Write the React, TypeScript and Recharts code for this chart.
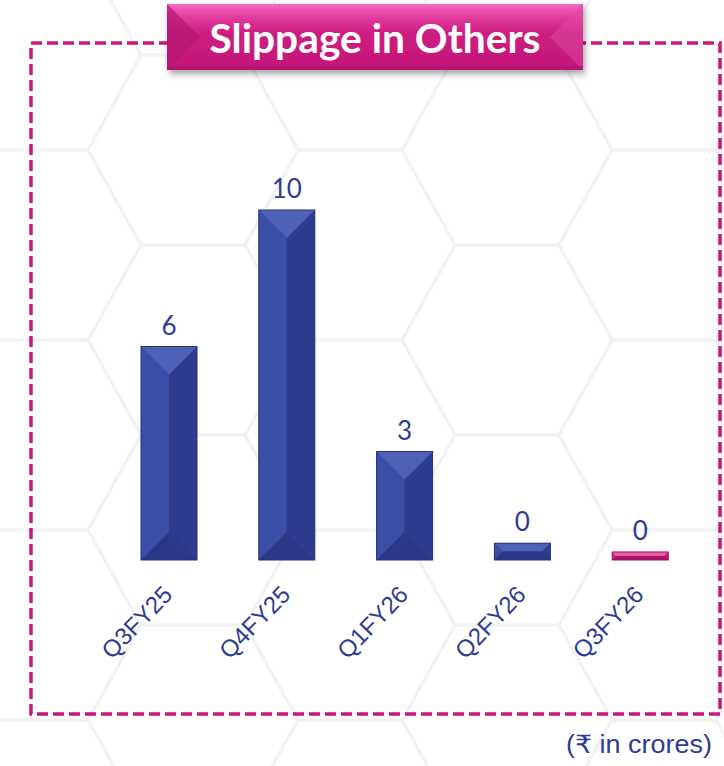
import React from 'react';
import {BarChart, Bar, XAxis, YAxis, LabelList} from 'recharts';

// slippage in others, ₹ crores (bar heights; labels show rounded values)
const quarters = ['Q3FY25', 'Q4FY25', 'Q1FY26', 'Q2FY26', 'Q3FY26'];
const slippage = [6.1, 10, 3.1, 0.48, 0.23];
const yDomain = [0, 10];

const data = quarters.map((q, i) => ({quarter: q, value: slippage[i]}));

const navy = {base: '#33449c', left: '#3a4ea6', right: '#2d3c8f', top: '#4f61b7', bottom: '#2b3887', edge: '#27337d'};
const pink = {base: '#cc1d80', left: '#d42a8a', right: '#bf1775', top: '#ea5cae', bottom: '#a8125f', edge: '#9e1159'};
const textBlue = '#2e3c94';

function BevelBar(props: any) {
	const {x, y, width: w, height: h, index} = props;
	if (!w || h == null) return null;
	const c = index === quarters.length - 1 ? pink : navy;
	const d = Math.min(w / 2, h / 2);
	const p = (pts: number[][]) => pts.map((q) => q.join(',')).join(' ');
	return (
		<g>
			<rect x={x} y={y} width={w} height={h} fill={c.base} />
			<polygon points={p([[x, y], [x + d, y + d], [x + d, y + h - d], [x, y + h]])} fill={c.left} />
			<polygon points={p([[x + w, y], [x + w - d, y + d], [x + w - d, y + h - d], [x + w, y + h]])} fill={c.right} />
			<polygon points={p([[x, y], [x + w, y], [x + w - d, y + d], [x + d, y + d]])} fill={c.top} />
			<polygon points={p([[x, y + h], [x + w, y + h], [x + w - d, y + h - d], [x + d, y + h - d]])} fill={c.bottom} />
			<rect x={x} y={y} width={w} height={h} fill="none" stroke={c.edge} strokeWidth={1} />
		</g>
	);
}

function AngledTick(props: any) {
	const {x, y, payload} = props;
	return (
		<g transform={`translate(${x + 5},${y + 36})`}>
			<text
				textAnchor="end"
				transform="rotate(-46)"
				fill={textBlue}
				fontSize={24}
				fontFamily="'Liberation Sans', Arial, sans-serif"
			>
				{payload.value}
			</text>
		</g>
	);
}

function HexBackground() {
	const cells = [];
	for (let c = -1; c < 5; c++) {
		for (let r = -1; r < 5; r++) {
			const cx = 193 + c * 157;
			const cy = 150 + r * 190 + (Math.abs(c) % 2 === 1 ? 95 : 0);
			const pts = [
				[cx - 105, cy],
				[cx - 52, cy - 95],
				[cx + 52, cy - 95],
				[cx + 105, cy],
				[cx + 52, cy + 95],
				[cx - 52, cy + 95],
			];
			cells.push(<polygon key={`${c}-${r}`} points={pts.map((q) => q.join(',')).join(' ')} />);
		}
	}
	return (
		<g fill="none" stroke="#f2f2f4" strokeWidth={3}>
			{cells}
		</g>
	);
}

function Frame() {
	return (
		<svg width={724} height={766} style={{position: 'absolute', left: 0, top: 0}}>
			<defs>
				<linearGradient id="titleGrad" x1="0" y1="0" x2="0" y2="1">
					<stop offset="0" stopColor="#f46cc2" />
					<stop offset="0.2" stopColor="#e23a9f" />
					<stop offset="0.45" stopColor="#cc1c80" />
					<stop offset="1" stopColor="#c4177a" />
				</linearGradient>
				<filter id="shadow" x="-10%" y="-20%" width="120%" height="160%">
					<feDropShadow dx="2" dy="4" stdDeviation="3" floodColor="#000" floodOpacity="0.35" />
				</filter>
			</defs>
			<rect width={724} height={766} fill="#ffffff" />
			<HexBackground />
			<rect x={31} y={43} width={689} height={671} fill="none" stroke="#c8177a" strokeWidth={3.5} strokeDasharray="11 5" />
			<g filter="url(#shadow)">
				<rect x={167} y={4} width={416} height={66} fill="url(#titleGrad)" />
			</g>
			<polygon points="167,4 200,37 167,70" fill="#b5156f" opacity={0.7} />
			<polygon points="583,4 550,37 583,70" fill="#e04aa6" opacity={0.5} />
			<rect x={167} y={66} width={416} height={4} fill="#b0126a" opacity={0.6} />
			<text
				x={375}
				y={53}
				textAnchor="middle"
				fill="#ffffff"
				fontSize={40}
				fontWeight={700}
				fontFamily="Lato, 'Open Sans', sans-serif"
				textLength={331}
				lengthAdjust="spacingAndGlyphs"
			>
				Slippage in Others
			</text>
			<text
				x={712}
				y={753}
				textAnchor="end"
				fill={textBlue}
				fontSize={25}
				fontFamily="'Liberation Sans', Arial, 'DejaVu Sans', sans-serif"
				textLength={146}
				lengthAdjust="spacingAndGlyphs"
			>
				(₹ in crores)
			</text>
		</svg>
	);
}

export default function App() {
	return (
		<div style={{position: 'absolute', left: 0, top: 0, width: 724, height: 766}}>
			<Frame />
			<div style={{position: 'absolute', left: 0, top: 0}}>
				<BarChart width={724} height={766} data={data} margin={{top: 210, right: 25, bottom: 146, left: 110}}>
					<XAxis dataKey="quarter" axisLine={false} tickLine={false} tick={<AngledTick />} interval={0} height={60} tickSize={0} tickMargin={0} />
					<YAxis hide domain={yDomain} />
					<Bar dataKey="value" barSize={56} shape={<BevelBar />} isAnimationActive={false}>
						<LabelList
							dataKey="value"
							position="top"
							offset={12}
							formatter={(v: any) => Math.round(Number(v))}
							fill={textBlue}
							fontSize={26}
							fontFamily="Lato, 'Open Sans', sans-serif"
						/>
					</Bar>
				</BarChart>
			</div>
		</div>
	);
}
